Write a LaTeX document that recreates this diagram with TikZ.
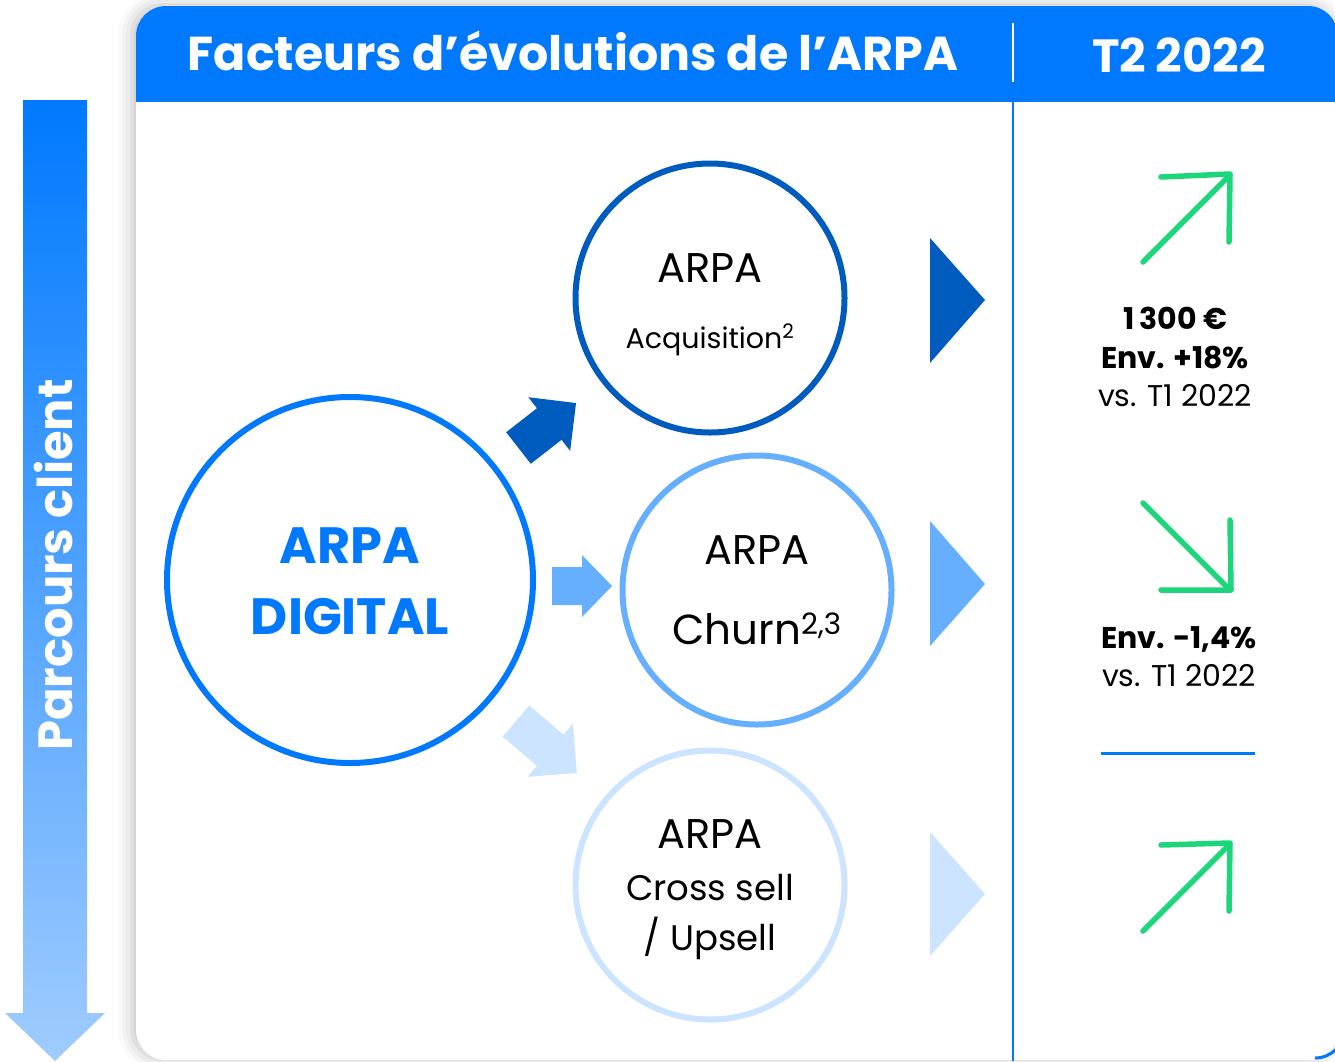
\documentclass[tikz,border=0pt]{standalone}
\usepackage{fontspec}
\setmainfont{Poppins}
\usetikzlibrary{shadows.blur}
\definecolor{hblue}{RGB}{0,121,255}
\definecolor{dblue}{RGB}{0,91,191}
\definecolor{mblue}{RGB}{102,175,255}
\definecolor{lblue}{RGB}{204,228,255}
\definecolor{arrowlow}{RGB}{160,204,255}
\definecolor{upgreen}{RGB}{29,214,124}
\newcommand\bkarrow[7]{%
  \fill[#1,shift={#2},rotate=#3] (0,-#5) -- ({#4-#7},-#5) -- ({#4-#7},-#6) -- (#4,0) -- ({#4-#7},#6) -- ({#4-#7},#5) -- (0,#5) -- cycle;}
\tikzset{
  ring/.style={circle,line width=6pt,minimum size=#1,inner sep=0pt,fill=white},
  ctext/.style={anchor=base,inner sep=0pt,text=black},
  greenarrow/.style={draw=upgreen,line width=5.5pt,line cap=round,line join=round},
  rtext/.style={anchor=base,inner sep=0pt,font=\fontsize{30}{34}\selectfont},
  rbold/.style={anchor=base,inner sep=0pt,font=\bfseries\fontsize{30}{34}\selectfont},
}
\begin{document}
\begin{tikzpicture}[x=1pt,y=-1pt]
\useasboundingbox (0,0) rectangle (1335,1061);
\clip (0,0) rectangle (1335,1061);
% panel
\path[fill=white,rounded corners=30pt,blur shadow={shadow xshift=-4pt,shadow yshift=1pt,shadow blur radius=14pt,shadow opacity=25}]
  (136,6) rectangle (1338,1060);
\begin{scope}
  \clip[rounded corners=30pt] (136,6) rectangle (1338,1060);
  \fill[hblue] (130,0) rectangle (1340,102);
\end{scope}
% header
\node[anchor=base,inner sep=0pt,text=white,font=\bfseries\fontsize{47.5}{52}\selectfont] (title) at (573,70) {Facteurs d’évolutions de l’ARPA};
\node[anchor=base,inner sep=0pt,text=white,font=\bfseries\fontsize{46.5}{50}\selectfont] (period) at (1179,72) {T2 2022};
\coordinate (divT) at (1013,23);
\coordinate (divB) at (1013,82);
\draw[white,line width=2.2pt] (divT) -- (divB);
\coordinate (colT) at (1013,102);
\coordinate (colB) at (1013,1061);
\draw[hblue,line width=2.5pt] (colT) -- (colB);
\draw[hblue,line width=3pt] (1345,1028) arc[start angle=0,end angle=90,radius=30];
% left arrow
\shade[top color=hblue,bottom color=arrowlow] (23,100) -- (87,100) -- (87,1013) -- (105,1013) -- (55,1061) -- (5,1013) -- (23,1013) -- cycle;
\node[anchor=base,rotate=90,inner sep=0pt,text=white,font=\bfseries\fontsize{48}{52}\selectfont] (parcours) at (72,565) {Parcours client};
% circles
\node[ring=366pt,draw=hblue] (digital) at (350,580) {};
\node[ctext,text=hblue,font=\bfseries\fontsize{51}{56}\selectfont] (dig1) at (350,563) {ARPA};
\node[ctext,text=hblue,font=\bfseries\fontsize{51}{56}\selectfont] (dig2) at (350,634) {DIGITAL};
\node[ring=269pt,draw=dblue] (acq) at (710,298) {};
\node[ctext,font=\fontsize{41.5}{46}\selectfont] (acq1) at (710,282) {ARPA};
\node[ctext,font=\fontsize{28.5}{32}\selectfont] (acq2) at (710,348) {Acquisition\textsuperscript{\fontsize{20}{20}\selectfont 2}};
\node[ring=269pt,draw=mblue] (churn) at (757,590) {};
\node[ctext,font=\fontsize{41.5}{46}\selectfont] (ch1) at (757,564) {ARPA};
\node[ctext,font=\fontsize{42}{46}\selectfont] (ch2) at (757,644) {Churn\textsuperscript{2,3}};
\node[ring=269pt,draw=lblue] (cross) at (710,885) {};
\node[ctext,font=\fontsize{41.5}{46}\selectfont] (cr1) at (710,848) {ARPA};
\node[ctext,font=\fontsize{35.5}{40}\selectfont] (cr2) at (710,900) {Cross sell};
\node[ctext,font=\fontsize{35.5}{40}\selectfont] (cr3) at (710,950) {/ Upsell};
% block arrows
\bkarrow{dblue}{(518.5,448)}{38}{73}{20}{34}{34}
\bkarrow{mblue}{(552,586)}{0}{60}{19}{31}{30}
\bkarrow{lblue}{(516,721)}{-40.5}{80}{20.5}{35}{35}
% triangles
\fill[dblue] (930,238) -- (985,300) -- (930,363) -- cycle;
\fill[mblue] (930,521) -- (985,584) -- (930,646) -- cycle;
\fill[lblue] (930,832) -- (985,894) -- (930,956) -- cycle;
% green arrows
\draw[greenarrow] (1143,262) -- (1229,176);
\draw[greenarrow] (1161,177) -- (1230,174) -- (1229,242);
\draw[greenarrow] (1143,503) -- (1229,589);
\draw[greenarrow] (1230,520) -- (1231,590) -- (1161,590);
\draw[greenarrow] (1143,931) -- (1229,845);
\draw[greenarrow] (1161,845) -- (1230,843) -- (1229,911);
% right texts
\node[rbold] (v1) at (1175,329) {1\,300 €};
\node[rbold] (v2) at (1175,368) {Env. +18\%};
\node[rtext] (v3) at (1175,406) {vs. T1 2022};
\node[rbold] (w1) at (1179,648) {Env. -1,4\%};
\node[rtext] (w2) at (1179,686) {vs. T1 2022};
\coordinate (sepL) at (1101,753);
\coordinate (sepR) at (1255,753);
\draw[hblue,line width=3pt] (sepL) -- (sepR);
\end{tikzpicture}
\end{document}
